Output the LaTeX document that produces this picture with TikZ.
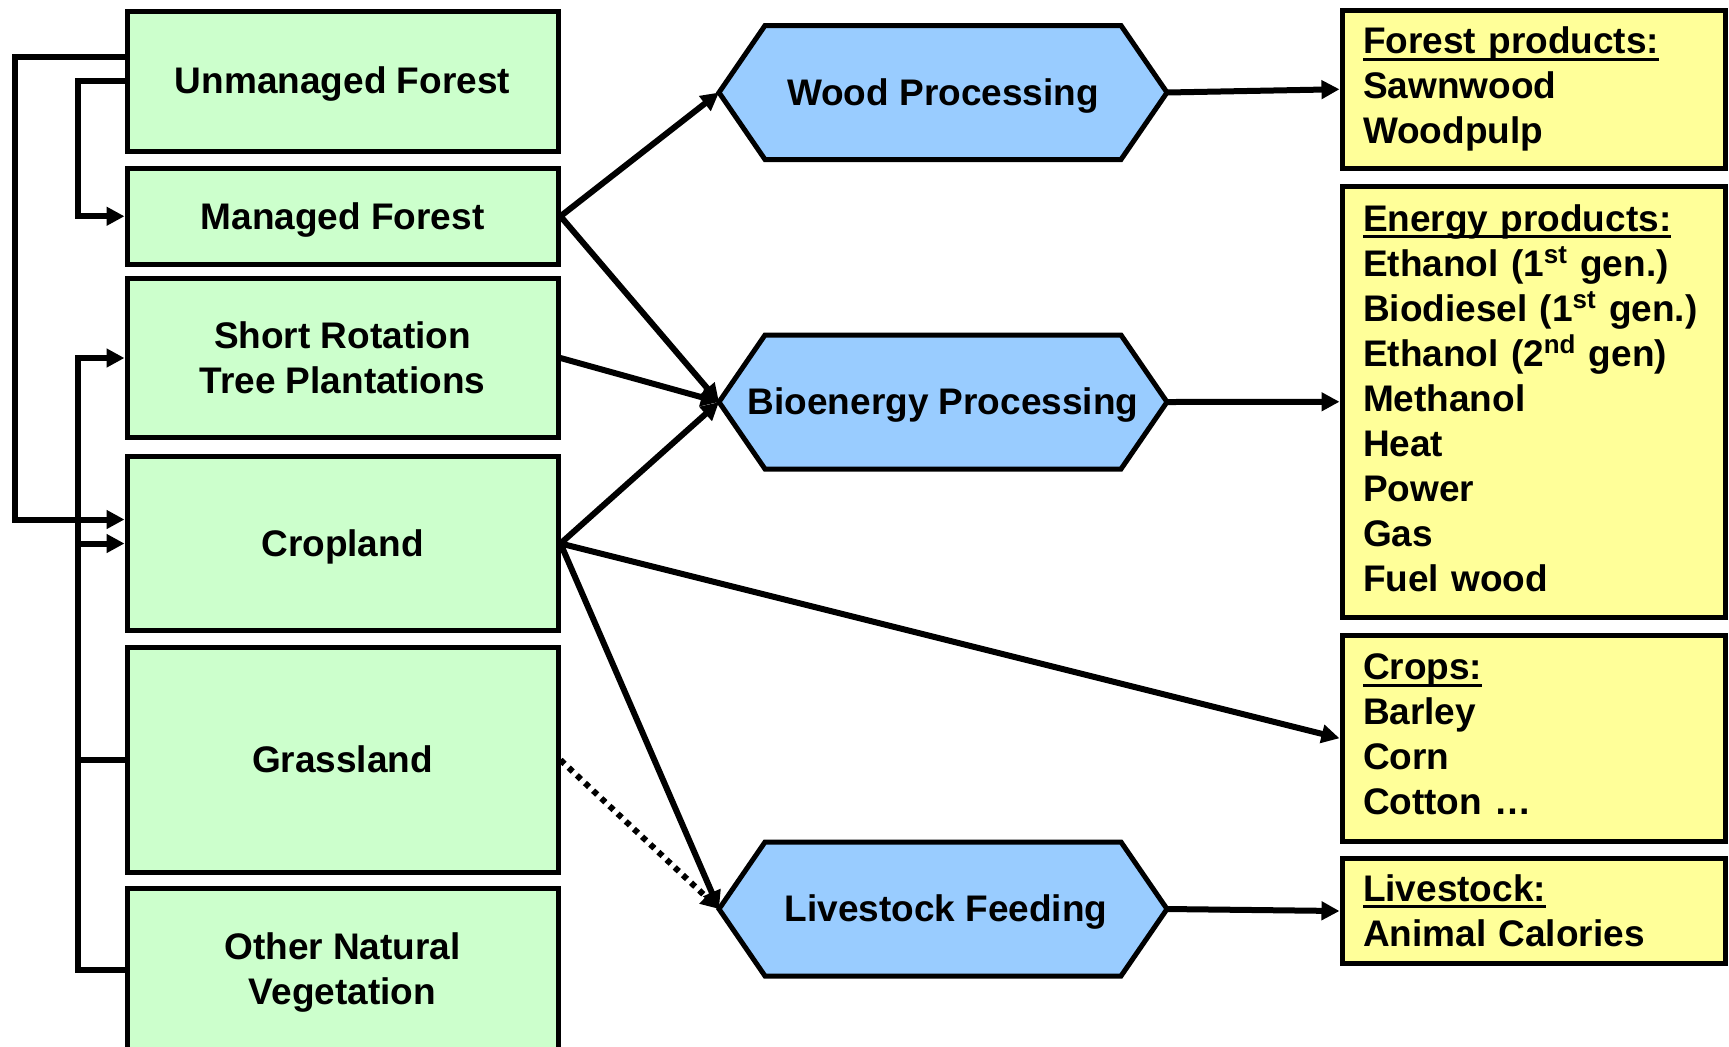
\documentclass[tikz,border=0pt]{standalone}
\usepackage{fontspec}
\setmainfont{Liberation Sans}
\usetikzlibrary{arrows.meta,calc,backgrounds}
\definecolor{boxgreen}{HTML}{CCFFCC}
\definecolor{boxblue}{HTML}{99CCFF}
\definecolor{boxyellow}{HTML}{FFFF99}
\newcommand{\hdr}[1]{\sbox0{#1}\rlap{\rule[-3.4pt]{\wd0}{1.4pt}}\usebox0}
\newcommand{\topstrut}{\rule{0pt}{0.905em}}
\newcommand{\botstrut}{\rule[-0.212em]{0pt}{0pt}}
\begin{document}
\begin{tikzpicture}[x=0.5pt,y=-0.5pt,
  every node/.style={font=\fontsize{18.5}{22.5}\selectfont\bfseries, inner sep=0pt},
  strutted/.style={execute at begin node=\topstrut, execute at end node=\botstrut},
  land/.style={draw, line width=2.5pt, fill=boxgreen, minimum width=215.5pt, align=center, strutted},
  hexcore/.style={align=center, strutted},
  hexframe/.style={draw, line width=2.5pt, fill=boxblue, line join=miter},
  prod/.style={draw, line width=2.5pt, fill=boxyellow, text width=170.5pt, inner xsep=10.5pt, align=left, execute at end node=\botstrut},
  link/.style={draw, line width=3pt, line join=miter},
  conn/.style={link, -{Triangle[length=9pt,width=9pt]}},
  dotconn/.style={conn, dash pattern=on 2.8pt off 2.8pt}
]
\useasboundingbox (0,0) rectangle (1729,1046);

% land-use boxes
\node[land, minimum height=70pt]    (unman)   at (342.5,81)     {Unmanaged Forest};
\node[land, minimum height=47.75pt] (managed) at (342.5,216.25) {Managed Forest};
\node[land, minimum height=79.5pt]  (short)   at (342.5,358)    {\topstrut Short Rotation\\Tree Plantations};
\node[land, minimum height=87pt]    (crop)    at (342.5,543.5)  {Cropland};
\node[land, minimum height=112.5pt] (grass)   at (342.5,760)    {Grassland};
\node[land, minimum height=81pt]    (other)   at (342.5,969.5)  {\topstrut Other Natural\\Vegetation};

% processing hexagons
\node[hexcore] (wood) at (943,92.5) {Wood Processing};
\node[hexcore] (bio)  at (943,402)  {Bioenergy Processing};
\node[hexcore] (live) at (946,909)  {Livestock Feeding};
\coordinate (woodc) at (943,92.5);
\coordinate (bioc)  at (943,402);
\coordinate (livec) at (943,909);
\foreach \n in {wood,bio,live}{
  \coordinate (\n L) at ($(\n c)+(-224,0)$);
  \coordinate (\n R) at ($(\n c)+(224,0)$);
}
\begin{scope}[on background layer]
\foreach \n in {wood,bio,live}{
  \draw[hexframe] ($(\n c)+(-178,-67)$) -- ($(\n c)+(178,-67)$) -- (\n R)
    -- ($(\n c)+(178,67)$) -- ($(\n c)+(-178,67)$) -- (\n L) -- cycle;
}
\end{scope}

% product boxes
\node[prod, minimum height=78.75pt]  (forest) at (1533.5,89.25)  {\hdr{Forest products:}\\Sawnwood\\Woodpulp};
\node[prod, minimum height=215.75pt] (energy) at (1533.5,401.75) {\hdr{Energy products:}\\Ethanol (1\textsuperscript{st} gen.)\\Biodiesel (1\textsuperscript{st} gen.)\\Ethanol (2\textsuperscript{nd} gen)\\Methanol\\Heat\\Power\\Gas\\Fuel wood};
\node[prod, minimum height=103.25pt] (crops)  at (1533.5,738.25) {\hdr{Crops:}\\Barley\\Corn\\Cotton \dots};
\node[prod, minimum height=52.5pt]   (stock)  at (1533.5,911)    {\topstrut\hdr{Livestock:}\\Animal Calories};

% left-side transitions
\coordinate (ox) at (15,0);
\coordinate (ix) at (78,0);
\draw[conn] ($(unman.west)+(0,-24)$) -| ($(ox |- crop.west)+(0,-24)$) -- ($(crop.west)+(0,-24)$);
\draw[conn] (unman.west) -| (ix |- managed.west) -- (managed.west);
\draw[conn] (other.west) -| (ix |- short.west) -- (short.west);
\draw[link] (grass.west) -- (ix |- grass.west);
\draw[conn] (ix |- crop.west) -- (crop.west);

% flows to processing
\draw[conn] (managed.east) -- (woodL);
\draw[conn] (managed.east) -- (bioL);
\draw[conn] (short.east) -- (bioL);
\draw[conn] (crop.east) -- (bioL);
\draw[conn] (crop.east) -- (crops.west);
\draw[conn] (crop.east) -- (liveL);
\draw[dotconn] (grass.east) -- (liveL);

% flows to products
\draw[conn] (woodR) -- (forest.west);
\draw[conn] (bioR) -- (energy.west);
\draw[conn] (liveR) -- (stock.west);
\end{tikzpicture}
\end{document}
